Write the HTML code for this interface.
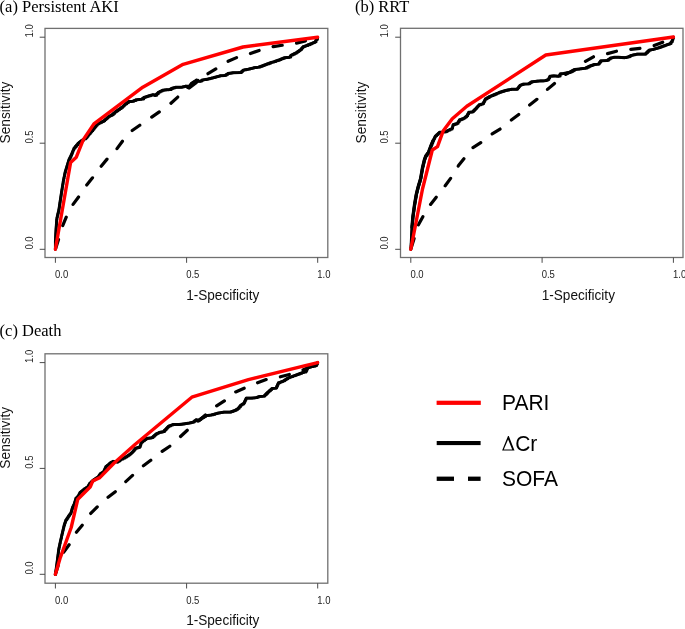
<!DOCTYPE html><html><head><meta charset="utf-8"><style>html,body{margin:0;padding:0;background:#fff;}svg{display:block;will-change:transform;}</style></head><body>
<svg width="685" height="629" viewBox="0 0 685 629">
<rect width="685" height="629" fill="#fff"/>
<rect x="45.0" y="28.4" width="282.8" height="229.1" fill="none" stroke="#707070" stroke-width="1.3"/>
<line x1="55.4" y1="257.5" x2="55.4" y2="262.8" stroke="#4a4a4a" stroke-width="1"/>
<line x1="45.0" y1="249.3" x2="39.7" y2="249.3" stroke="#4a4a4a" stroke-width="1"/>
<text transform="translate(55.00,277.90) scale(1,1.08)" font-family="'Liberation Sans', sans-serif" font-size="9.5" fill="#222">0.0</text>
<text transform="translate(32.50,249.60) rotate(-90) scale(1,1.08)" font-family="'Liberation Sans', sans-serif" font-size="9.5" fill="#222">0.0</text>
<line x1="186.6" y1="257.5" x2="186.6" y2="262.8" stroke="#4a4a4a" stroke-width="1"/>
<line x1="45.0" y1="143.2" x2="39.7" y2="143.2" stroke="#4a4a4a" stroke-width="1"/>
<text transform="translate(186.15,277.90) scale(1,1.08)" font-family="'Liberation Sans', sans-serif" font-size="9.5" fill="#222">0.5</text>
<text transform="translate(32.50,143.55) rotate(-90) scale(1,1.08)" font-family="'Liberation Sans', sans-serif" font-size="9.5" fill="#222">0.5</text>
<line x1="317.7" y1="257.5" x2="317.7" y2="262.8" stroke="#4a4a4a" stroke-width="1"/>
<line x1="45.0" y1="37.2" x2="39.7" y2="37.2" stroke="#4a4a4a" stroke-width="1"/>
<text transform="translate(317.30,277.90) scale(1,1.08)" font-family="'Liberation Sans', sans-serif" font-size="9.5" fill="#222">1.0</text>
<text transform="translate(32.50,37.50) rotate(-90) scale(1,1.08)" font-family="'Liberation Sans', sans-serif" font-size="9.5" fill="#222">1.0</text>
<text transform="translate(186.15,300.40) scale(1,1.04)" font-family="'Liberation Sans', sans-serif" font-size="13.6" fill="#111">1-Specificity</text>
<text transform="translate(10.10,143.45) rotate(-90) scale(1,1.04)" font-family="'Liberation Sans', sans-serif" font-size="13.75" fill="#111">Sensitivity</text>
<text transform="translate(-0.40,11.70) scale(1,1.04)" font-family="'Liberation Serif', serif" font-size="16.5" fill="#000">(a) Persistent AKI</text>
<polyline points="55.4,249.3 59.3,237.0 61.9,227.6 66.7,216.0 72.5,205.1 80.0,195.0 86.7,185.0 93.4,176.7 100.1,167.5 108.4,157.5 116.0,150.0 123.4,139.9 131.4,131.1 140.9,124.5 150.4,118.0 159.9,111.4 169.3,104.8 178.8,96.1 207.0,74.3 218.0,67.7 226.7,61.9 238.4,56.8 249.3,53.9 261.8,49.5 273.4,46.6 285.5,44.8 295.7,43.3 307.4,40.4 317.6,37.5" fill="none" stroke="#000" stroke-width="3.2" stroke-linejoin="round" stroke-linecap="round" stroke-dasharray="9.2 14.50" stroke-dashoffset="-1.1"/>
<polyline points="55.4,249.3 55.4,249.3 55.4,247.7 55.4,247.7 55.4,246.1 55.4,246.1 55.4,244.5 55.4,244.5 55.4,242.9 55.4,242.9 55.4,241.3 55.5,241.3 55.5,239.7 55.6,239.7 55.6,238.0 55.6,238.0 55.6,236.4 55.7,236.4 55.7,234.8 55.8,234.8 55.8,233.1 55.9,233.1 55.9,231.5 56.0,231.5 56.0,229.8 56.1,229.8 56.1,228.1 56.2,228.1 56.2,226.4 56.4,226.4 56.4,224.7 56.5,224.7 56.5,223.0 56.6,223.0 56.6,221.3 56.7,221.3 56.7,219.6 57.0,219.6 57.0,217.6 57.4,217.6 57.4,215.7 57.9,215.7 57.9,213.7 58.4,213.7 58.4,211.7 58.9,211.7 58.9,209.7 59.1,209.7 59.1,208.0 59.4,208.0 59.4,206.2 59.6,206.2 59.6,204.5 59.9,204.5 59.9,202.8 60.2,202.8 60.2,200.8 60.5,200.8 60.5,198.9 60.8,198.9 60.8,196.9 61.1,196.9 61.1,194.9 61.4,194.9 61.4,193.2 61.6,193.2 61.6,191.4 61.9,191.4 61.9,189.7 62.2,189.7 62.2,188.1 62.4,188.1 62.4,186.5 62.7,186.5 62.7,184.8 63.0,184.8 63.0,183.2 63.2,183.2 63.2,181.6 63.5,181.6 63.5,180.0 63.9,180.0 63.9,178.1 64.3,178.1 64.3,176.1 64.7,176.1 64.7,174.1 65.1,174.1 65.1,172.2 65.6,172.2 65.6,170.6 66.1,170.6 66.1,169.0 66.5,169.0 66.5,167.5 67.0,167.5 67.0,165.9 67.5,165.9 67.5,164.3 68.0,164.3 68.0,162.7 68.5,162.7 68.5,161.1 69.0,161.1 69.0,159.5 70.0,159.5 70.0,157.5 71.0,157.5 71.0,155.5 71.8,155.5 71.8,153.7 72.5,153.7 72.5,151.8 73.2,151.8 73.2,150.0 74.0,150.0 74.0,148.2 75.3,148.2 75.3,146.6 76.7,146.6 76.7,145.0 78.0,145.0 78.0,143.4 79.3,143.4 79.3,142.3 80.7,142.3 80.7,141.3 82.0,141.3 82.0,140.2 84.0,140.2 84.0,139.0 86.1,139.0 86.1,137.8 87.2,137.8 87.2,136.4 88.2,136.4 88.2,135.1 89.3,135.1 89.3,133.7 90.5,133.7 90.5,132.3 91.7,132.3 91.7,130.9 92.9,130.9 92.9,129.5 94.1,129.5 94.1,128.1 95.2,128.1 95.2,126.8 96.2,126.8 96.2,125.4 97.3,125.4 97.3,124.1 98.9,124.1 98.9,123.3 100.5,123.3 100.5,122.5 102.1,122.5 102.1,121.7 103.7,121.7 103.7,120.9 104.9,120.9 104.9,119.8 106.2,119.8 106.2,118.7 107.4,118.7 107.4,117.6 108.6,117.6 108.6,116.5 110.2,116.5 110.2,115.7 111.8,115.7 111.8,114.9 113.4,114.9 113.4,113.5 115.0,113.5 115.0,112.0 116.6,112.0 116.6,110.9 118.2,110.9 118.2,109.8 119.8,109.8 119.8,108.7 121.4,108.7 121.4,107.5 123.0,107.5 123.0,106.3 124.2,106.3 124.2,105.1 125.4,105.1 125.4,103.9 127.0,103.9 127.0,102.7 128.7,102.7 128.7,101.5 130.3,101.5 130.3,101.5 131.9,101.5 131.9,101.5 133.9,101.5 133.9,100.7 135.9,100.7 135.9,99.9 137.8,99.9 137.8,99.6 139.6,99.6 139.6,99.4 141.5,99.4 141.5,99.1 143.9,99.1 143.9,97.5 145.5,97.5 145.5,97.0 147.1,97.0 147.1,96.4 148.7,96.4 148.7,95.9 150.8,95.9 150.8,95.3 152.8,95.3 152.8,94.7 155.2,94.7 155.2,95.5 156.8,95.5 156.8,93.9 158.4,93.9 158.4,92.3 160.4,92.3 160.4,91.3 162.4,91.3 162.4,90.3 164.4,90.3 164.4,90.0 166.4,90.0 166.4,89.8 169.0,89.8 169.0,89.7 171.4,89.7 171.4,88.5 173.4,88.5 173.4,87.9 175.4,87.9 175.4,87.3 177.3,87.3 177.3,87.3 179.2,87.3 179.2,87.3 181.1,87.3 181.1,87.3 182.7,87.3 182.7,86.9 184.3,86.9 184.3,86.5 185.9,86.5 185.9,86.1 187.9,86.1 187.9,87.7 189.1,87.7 189.1,86.2 190.3,86.2 190.3,84.8 191.5,84.8 191.5,83.3 193.1,83.3 193.1,82.2 194.7,82.2 194.7,81.2 196.3,81.2 196.3,80.1 197.9,80.1 197.9,81.3 200.3,81.3 200.3,81.3 201.9,81.3 201.9,80.1 203.5,80.1 203.5,79.8 205.2,79.8 205.2,79.6 206.8,79.6 206.8,79.3 208.4,79.3 208.4,78.9 210.0,78.9 210.0,78.5 211.6,78.5 211.6,78.1 213.2,78.1 213.2,77.7 214.9,77.7 214.9,77.2 216.6,77.2 216.6,76.8 218.3,76.8 218.3,76.3 220.0,76.3 220.0,75.8 221.6,75.8 221.6,75.7 223.2,75.7 223.2,75.6 224.8,75.6 224.8,75.5 226.4,75.5 226.4,74.5 228.0,74.5 228.0,73.5 229.6,73.5 229.6,73.2 231.3,73.2 231.3,73.0 232.9,73.0 232.9,72.7 234.8,72.7 234.8,72.7 236.7,72.7 236.7,72.7 238.6,72.7 238.6,72.6 240.5,72.6 240.5,72.6 241.8,72.6 241.8,71.4 243.0,71.4 243.0,70.2 244.7,70.2 244.7,69.9 246.4,69.9 246.4,69.5 248.1,69.5 248.1,69.2 250.0,69.2 250.0,68.7 251.8,68.7 251.8,68.3 253.7,68.3 253.7,67.8 255.3,67.8 255.3,67.6 257.0,67.6 257.0,67.3 258.6,67.3 258.6,67.1 260.6,67.1 260.6,66.4 262.6,66.4 262.6,65.7 264.2,65.7 264.2,65.1 265.8,65.1 265.8,64.5 267.4,64.5 267.4,63.9 269.4,63.9 269.4,63.1 271.4,63.1 271.4,62.3 274.0,62.3 274.0,61.7 275.9,61.7 275.9,61.0 277.7,61.0 277.7,60.4 279.6,60.4 279.6,59.7 281.2,59.7 281.2,59.0 282.9,59.0 282.9,58.4 284.5,58.4 284.5,57.7 286.1,57.7 286.1,57.6 287.7,57.6 287.7,57.4 289.3,57.4 289.3,57.3 290.9,57.3 290.9,55.3 292.8,55.3 292.8,54.4 294.6,54.4 294.6,53.4 296.5,53.4 296.5,52.5 297.8,52.5 297.8,51.6 299.2,51.6 299.2,50.6 300.5,50.6 300.5,49.7 301.7,49.7 301.7,48.3 302.9,48.3 302.9,46.9 304.5,46.9 304.5,46.3 306.1,46.3 306.1,45.7 308.0,45.7 308.0,44.9 309.9,44.9 309.9,44.1 311.8,44.1 311.8,43.3 313.4,43.3 313.4,42.6 315.0,42.6 315.0,42.0 316.2,42.0 316.2,39.6 317.6,39.6 317.6,37.5" fill="none" stroke="#000" stroke-width="2.6" stroke-linejoin="round" stroke-linecap="round"/>
<polyline points="55.4,249.3 55.4,241.3 55.9,231.5 56.7,219.6 57.4,215.7 58.9,209.7 59.9,202.8 61.1,194.9 61.9,189.7 63.5,180.0 65.1,172.2 67.5,164.3 69.0,159.5 71.0,155.5 74.0,148.2 78.0,143.4 82.0,140.2 86.1,137.8 89.3,133.7 94.1,128.1 97.3,124.1 103.7,120.9 108.6,116.5 111.8,114.9 115.0,112.0 119.8,108.7 123.0,106.3 125.4,103.9 128.7,101.5 131.9,101.5 135.9,99.9 141.5,99.1 143.9,97.5 148.7,95.9 152.8,94.7 155.2,95.5 158.4,92.3 162.4,90.3 166.4,89.8 169.0,89.7 171.4,88.5 175.4,87.3 181.1,87.3 185.9,86.1 187.9,87.7 191.5,83.3 196.3,80.1 197.9,81.3 200.3,81.3 201.9,80.1 206.8,79.3 213.2,77.7 220.0,75.8 224.8,75.5 228.0,73.5 232.9,72.7 240.5,72.6 243.0,70.2 248.1,69.2 253.7,67.8 258.6,67.1 262.6,65.7 267.4,63.9 271.4,62.3 274.0,61.7 279.6,59.7 284.5,57.7 289.3,57.3 290.9,55.3 296.5,52.5 300.5,49.7 302.9,46.9 306.1,45.7 311.8,43.3 315.0,42.0 316.2,39.6 317.6,37.5" fill="none" stroke="#000" stroke-width="2.9" stroke-linejoin="round" stroke-linecap="round"/>
<polyline points="55.4,249.3 70.6,162.5 76.3,157.2 83.3,139.6 93.9,123.9 142.8,87.2 183.1,64.3 243.0,47.0 317.6,37.2" fill="none" stroke="#f00" stroke-width="3.4" stroke-linejoin="round" stroke-linecap="round"/>
<rect x="400.5" y="28.3" width="282.5" height="229.2" fill="none" stroke="#707070" stroke-width="1.3"/>
<line x1="410.8" y1="257.5" x2="410.8" y2="262.8" stroke="#4a4a4a" stroke-width="1"/>
<line x1="400.5" y1="249.3" x2="395.2" y2="249.3" stroke="#4a4a4a" stroke-width="1"/>
<text transform="translate(410.40,277.90) scale(1,1.08)" font-family="'Liberation Sans', sans-serif" font-size="9.5" fill="#222">0.0</text>
<text transform="translate(388.00,249.60) rotate(-90) scale(1,1.08)" font-family="'Liberation Sans', sans-serif" font-size="9.5" fill="#222">0.0</text>
<line x1="542.1" y1="257.5" x2="542.1" y2="262.8" stroke="#4a4a4a" stroke-width="1"/>
<line x1="400.5" y1="143.2" x2="395.2" y2="143.2" stroke="#4a4a4a" stroke-width="1"/>
<text transform="translate(541.70,277.90) scale(1,1.08)" font-family="'Liberation Sans', sans-serif" font-size="9.5" fill="#222">0.5</text>
<text transform="translate(388.00,143.55) rotate(-90) scale(1,1.08)" font-family="'Liberation Sans', sans-serif" font-size="9.5" fill="#222">0.5</text>
<line x1="673.4" y1="257.5" x2="673.4" y2="262.8" stroke="#4a4a4a" stroke-width="1"/>
<line x1="400.5" y1="37.2" x2="395.2" y2="37.2" stroke="#4a4a4a" stroke-width="1"/>
<text transform="translate(673.00,277.90) scale(1,1.08)" font-family="'Liberation Sans', sans-serif" font-size="9.5" fill="#222">1.0</text>
<text transform="translate(388.00,37.50) rotate(-90) scale(1,1.08)" font-family="'Liberation Sans', sans-serif" font-size="9.5" fill="#222">1.0</text>
<text transform="translate(541.70,300.40) scale(1,1.04)" font-family="'Liberation Sans', sans-serif" font-size="13.6" fill="#111">1-Specificity</text>
<text transform="translate(365.60,143.45) rotate(-90) scale(1,1.04)" font-family="'Liberation Sans', sans-serif" font-size="13.75" fill="#111">Sensitivity</text>
<text transform="translate(354.90,11.70) scale(1,1.04)" font-family="'Liberation Serif', serif" font-size="16.5" fill="#000">(b) RRT</text>
<polyline points="410.8,249.3 414.6,237.0 418.3,225.0 423.8,215.0 430.2,204.9 436.6,196.7 443.9,187.6 451.2,177.5 458.5,165.6 465.3,157.0 470.9,149.0 482.0,141.9 490.7,134.7 501.1,128.4 509.8,121.2 519.5,113.9 527.5,106.7 538.6,98.0 545.8,90.8 556.1,82.1 564.8,74.9 574.4,69.7 583.9,62.2 594.3,56.3 605.4,54.2 617.7,50.9 628.8,49.5 642.0,48.1 653.1,46.0 663.5,41.9 673.4,37.0" fill="none" stroke="#000" stroke-width="3.2" stroke-linejoin="round" stroke-linecap="round" stroke-dasharray="9.2 14.50" stroke-dashoffset="-2.0"/>
<polyline points="410.8,249.3 411.0,249.3 411.0,247.1 411.1,247.1 411.1,244.8 411.2,244.8 411.2,243.1 411.3,243.1 411.3,241.3 411.4,241.3 411.4,239.6 411.5,239.6 411.5,237.8 411.6,237.8 411.6,236.1 411.6,236.1 411.6,234.3 411.7,234.3 411.7,232.6 411.8,232.6 411.8,230.8 411.9,230.8 411.9,229.1 412.0,229.1 412.0,227.3 412.1,227.3 412.1,225.6 412.3,225.6 412.3,223.8 412.4,223.8 412.4,222.1 412.6,222.1 412.6,220.4 412.8,220.4 412.8,218.6 412.9,218.6 412.9,216.9 413.1,216.9 413.1,215.1 413.4,215.1 413.4,213.4 413.6,213.4 413.6,211.6 413.9,211.6 413.9,209.9 414.1,209.9 414.1,208.1 414.4,208.1 414.4,206.4 414.6,206.4 414.6,204.6 414.9,204.6 414.9,202.8 415.2,202.8 415.2,201.1 415.5,201.1 415.5,199.3 415.8,199.3 415.8,197.6 416.1,197.6 416.1,195.8 416.4,195.8 416.4,194.1 416.8,194.1 416.8,192.4 417.2,192.4 417.2,190.6 417.7,190.6 417.7,188.9 418.1,188.9 418.1,187.2 418.6,187.2 418.6,185.4 419.1,185.4 419.1,183.7 419.7,183.7 419.7,181.9 420.2,181.9 420.2,180.2 420.7,180.2 420.7,178.4 421.0,178.4 421.0,176.7 421.3,176.7 421.3,174.9 421.6,174.9 421.6,173.2 421.9,173.2 421.9,171.5 422.2,171.5 422.2,169.7 422.5,169.7 422.5,168.0 422.9,168.0 422.9,166.2 423.3,166.2 423.3,164.5 423.8,164.5 423.8,162.7 424.2,162.7 424.2,161.0 424.6,161.0 424.6,159.2 425.3,159.2 425.3,157.4 426.0,157.4 426.0,155.7 427.3,155.7 427.3,153.9 428.6,153.9 428.6,152.2 429.2,152.2 429.2,150.4 429.9,150.4 429.9,148.7 430.6,148.7 430.6,146.9 431.2,146.9 431.2,145.2 432.1,145.2 432.1,143.0 433.0,143.0 433.0,140.8 433.8,140.8 433.8,139.2 434.6,139.2 434.6,137.6 435.4,137.6 435.4,136.0 436.8,136.0 436.8,134.8 438.1,134.8 438.1,133.5 439.5,133.5 439.5,132.3 441.4,132.3 441.4,132.2 443.2,132.2 443.2,132.0 445.1,132.0 445.1,131.9 446.7,131.9 446.7,131.1 448.3,131.1 448.3,130.3 450.3,130.3 450.3,129.3 452.3,129.3 452.3,128.3 452.7,128.3 452.7,126.5 453.1,126.5 453.1,124.7 455.1,124.7 455.1,124.1 457.1,124.1 457.1,123.5 458.3,123.5 458.3,121.7 459.5,121.7 459.5,119.9 461.6,119.9 461.6,119.1 463.6,119.1 463.6,118.3 465.2,118.3 465.2,117.1 466.8,117.1 466.8,115.9 467.8,115.9 467.8,114.1 468.8,114.1 468.8,112.3 470.6,112.3 470.6,112.1 472.4,112.1 472.4,111.9 473.5,111.9 473.5,110.8 474.7,110.8 474.7,109.6 475.8,109.6 475.8,108.5 476.9,108.5 476.9,107.3 477.9,107.3 477.9,106.1 479.0,106.1 479.0,104.9 481.0,104.9 481.0,104.3 483.0,104.3 483.0,103.7 483.8,103.7 483.8,102.1 484.6,102.1 484.6,100.5 485.4,100.5 485.4,98.9 487.4,98.9 487.4,97.7 489.5,97.7 489.5,96.5 491.5,96.5 491.5,95.7 493.5,95.7 493.5,94.9 495.4,94.9 495.4,94.1 497.2,94.1 497.2,93.3 499.1,93.3 499.1,92.5 500.7,92.5 500.7,92.0 502.3,92.0 502.3,91.5 503.9,91.5 503.9,91.0 505.5,91.0 505.5,90.5 507.4,90.5 507.4,90.1 509.2,90.1 509.2,89.7 511.1,89.7 511.1,89.3 513.0,89.3 513.0,89.3 514.9,89.3 514.9,89.3 516.8,89.3 516.8,89.3 517.9,89.3 517.9,88.0 518.9,88.0 518.9,86.6 520.0,86.6 520.0,85.3 521.6,85.3 521.6,84.7 523.2,84.7 523.2,84.1 524.9,84.1 524.9,84.0 526.5,84.0 526.5,84.0 528.2,84.0 528.2,83.9 529.8,83.9 529.8,82.9 531.4,82.9 531.4,81.9 533.3,81.9 533.3,81.6 535.1,81.6 535.1,81.4 537.0,81.4 537.0,81.1 538.6,81.1 538.6,81.0 540.2,81.0 540.2,80.9 541.9,80.9 541.9,80.9 543.5,80.9 543.5,80.8 545.1,80.8 545.1,80.7 546.7,80.7 546.7,80.1 548.3,80.1 548.3,79.5 549.1,79.5 549.1,77.9 549.9,77.9 549.9,76.3 551.5,76.3 551.5,76.1 553.1,76.1 553.1,75.9 555.0,75.9 555.0,76.0 556.8,76.0 556.8,76.2 558.7,76.2 558.7,76.3 560.3,76.3 560.3,73.9 562.0,73.9 562.0,73.7 563.6,73.7 563.6,73.5 565.2,73.5 565.2,73.2 566.8,73.2 566.8,72.9 568.4,72.9 568.4,72.6 570.0,72.6 570.0,72.3 571.6,72.3 571.6,71.4 573.2,71.4 573.2,70.4 574.8,70.4 574.8,69.5 576.5,69.5 576.5,69.3 578.1,69.3 578.1,69.1 579.8,69.1 579.8,68.9 581.7,68.9 581.7,68.6 583.5,68.6 583.5,68.4 585.4,68.4 585.4,68.1 587.5,68.1 587.5,67.1 589.5,67.1 589.5,66.1 591.1,66.1 591.1,65.6 592.7,65.6 592.7,65.0 594.3,65.0 594.3,64.5 596.3,64.5 596.3,64.3 598.3,64.3 598.3,64.1 599.5,64.1 599.5,62.5 600.7,62.5 600.7,60.9 602.3,60.9 602.3,60.8 603.9,60.8 603.9,60.7 605.5,60.7 605.5,60.6 607.1,60.6 607.1,60.5 608.7,60.5 608.7,59.3 610.3,59.3 610.3,58.1 612.0,58.1 612.0,57.7 613.6,57.7 613.6,57.3 616.0,57.3 616.0,57.3 618.4,57.3 618.4,57.3 620.0,57.3 620.0,57.4 621.6,57.4 621.6,57.5 623.2,57.5 623.2,57.6 624.8,57.6 624.8,57.7 626.5,57.7 626.5,57.3 628.2,57.3 628.2,56.9 629.8,56.9 629.8,56.1 631.4,56.1 631.4,55.3 633.3,55.3 633.3,54.9 635.1,54.9 635.1,54.5 637.0,54.5 637.0,54.1 638.6,54.1 638.6,54.1 640.2,54.1 640.2,54.1 641.9,54.1 641.9,54.1 643.5,54.1 643.5,54.1 645.1,54.1 645.1,54.1 646.4,54.1 646.4,52.8 647.8,52.8 647.8,51.4 649.1,51.4 649.1,50.1 651.1,50.1 651.1,49.7 653.1,49.7 653.1,49.3 655.0,49.3 655.0,48.8 656.8,48.8 656.8,48.2 658.7,48.2 658.7,47.7 660.3,47.7 660.3,47.1 662.0,47.1 662.0,46.5 663.6,46.5 663.6,45.9 665.2,45.9 665.2,45.3 666.8,45.3 666.8,44.8 668.4,44.8 668.4,44.2 670.0,44.2 670.0,43.7 671.2,43.7 671.2,42.0 672.4,42.0 672.4,40.4 672.9,40.4 672.9,38.8 673.4,38.8 673.4,37.2" fill="none" stroke="#000" stroke-width="2.6" stroke-linejoin="round" stroke-linecap="round"/>
<polyline points="410.8,249.3 411.1,244.8 412.0,227.3 412.9,216.9 414.6,204.6 416.4,194.1 418.1,187.2 420.7,178.4 422.5,168.0 424.6,159.2 426.0,155.7 428.6,152.2 431.2,145.2 433.0,140.8 435.4,136.0 439.5,132.3 445.1,131.9 448.3,130.3 452.3,128.3 453.1,124.7 457.1,123.5 459.5,119.9 463.6,118.3 466.8,115.9 468.8,112.3 472.4,111.9 475.8,108.5 479.0,104.9 483.0,103.7 485.4,98.9 489.5,96.5 493.5,94.9 499.1,92.5 505.5,90.5 511.1,89.3 516.8,89.3 520.0,85.3 523.2,84.1 528.2,83.9 531.4,81.9 537.0,81.1 545.1,80.7 548.3,79.5 549.9,76.3 553.1,75.9 558.7,76.3 560.3,73.9 563.6,73.5 570.0,72.3 574.8,69.5 579.8,68.9 585.4,68.1 589.5,66.1 594.3,64.5 598.3,64.1 600.7,60.9 607.1,60.5 610.3,58.1 613.6,57.3 618.4,57.3 624.8,57.7 628.2,56.9 631.4,55.3 637.0,54.1 645.1,54.1 649.1,50.1 653.1,49.3 658.7,47.7 665.2,45.3 670.0,43.7 672.4,40.4 673.4,37.2" fill="none" stroke="#000" stroke-width="2.9" stroke-linejoin="round" stroke-linecap="round"/>
<polyline points="412.0,227.3 412.9,216.9 414.6,204.6 416.4,194.1 418.1,187.2 420.7,178.4 422.5,168.0 424.6,159.2 426.0,155.7 428.6,152.2 431.2,145.2 433.0,140.8" fill="none" stroke="#000" stroke-width="3.4" stroke-linejoin="round" stroke-linecap="round"/>
<polyline points="410.8,249.3 422.5,189.0 432.3,150.0 437.5,146.6 443.1,131.1 452.3,118.7 466.8,106.2 545.8,55.0 673.4,37.0" fill="none" stroke="#f00" stroke-width="3.4" stroke-linejoin="round" stroke-linecap="round"/>
<rect x="45.0" y="353.8" width="282.8" height="229.4" fill="none" stroke="#707070" stroke-width="1.3"/>
<line x1="55.4" y1="583.2" x2="55.4" y2="588.5" stroke="#4a4a4a" stroke-width="1"/>
<line x1="45.0" y1="574.3" x2="39.7" y2="574.3" stroke="#4a4a4a" stroke-width="1"/>
<text transform="translate(55.00,603.60) scale(1,1.08)" font-family="'Liberation Sans', sans-serif" font-size="9.5" fill="#222">0.0</text>
<text transform="translate(32.50,574.60) rotate(-90) scale(1,1.08)" font-family="'Liberation Sans', sans-serif" font-size="9.5" fill="#222">0.0</text>
<line x1="186.6" y1="583.2" x2="186.6" y2="588.5" stroke="#4a4a4a" stroke-width="1"/>
<line x1="45.0" y1="468.4" x2="39.7" y2="468.4" stroke="#4a4a4a" stroke-width="1"/>
<text transform="translate(186.15,603.60) scale(1,1.08)" font-family="'Liberation Sans', sans-serif" font-size="9.5" fill="#222">0.5</text>
<text transform="translate(32.50,468.75) rotate(-90) scale(1,1.08)" font-family="'Liberation Sans', sans-serif" font-size="9.5" fill="#222">0.5</text>
<line x1="317.7" y1="583.2" x2="317.7" y2="588.5" stroke="#4a4a4a" stroke-width="1"/>
<line x1="45.0" y1="362.6" x2="39.7" y2="362.6" stroke="#4a4a4a" stroke-width="1"/>
<text transform="translate(317.30,603.60) scale(1,1.08)" font-family="'Liberation Sans', sans-serif" font-size="9.5" fill="#222">1.0</text>
<text transform="translate(32.50,362.90) rotate(-90) scale(1,1.08)" font-family="'Liberation Sans', sans-serif" font-size="9.5" fill="#222">1.0</text>
<text transform="translate(186.15,625.10) scale(1,1.04)" font-family="'Liberation Sans', sans-serif" font-size="13.6" fill="#111">1-Specificity</text>
<text transform="translate(10.10,468.65) rotate(-90) scale(1,1.04)" font-family="'Liberation Sans', sans-serif" font-size="13.75" fill="#111">Sensitivity</text>
<text transform="translate(-0.40,335.50) scale(1,1.04)" font-family="'Liberation Serif', serif" font-size="16.5" fill="#000">(c) Death</text>
<polyline points="55.4,574.3 61.2,555.4 69.8,543.9 75.5,533.4 84.1,522.9 89.8,514.4 98.4,505.8 106.4,498.6 116.7,490.6 124.6,482.7 134.2,473.9 142.1,466.8 151.7,459.6 160.4,452.5 170.0,446.1 178.7,438.2 188.2,429.4 215.0,406.9 226.1,399.7 234.1,392.6 245.2,387.8 254.7,383.8 267.4,379.1 278.0,377.4 289.7,374.4 303.0,370.0 317.6,362.6" fill="none" stroke="#000" stroke-width="3.2" stroke-linejoin="round" stroke-linecap="round" stroke-dasharray="9.2 14.50" stroke-dashoffset="-0.1"/>
<polyline points="55.4,574.3 55.6,574.3 55.6,572.7 55.9,572.7 55.9,571.0 56.1,571.0 56.1,569.4 56.3,569.4 56.3,567.7 56.5,567.7 56.5,566.1 56.8,566.1 56.8,564.4 57.0,564.4 57.0,562.8 57.2,562.8 57.2,561.1 57.4,561.1 57.4,559.4 57.6,559.4 57.6,557.8 57.9,557.8 57.9,556.1 58.1,556.1 58.1,554.4 58.3,554.4 58.3,552.8 58.5,552.8 58.5,551.1 58.7,551.1 58.7,549.4 59.1,549.4 59.1,547.5 59.5,547.5 59.5,545.5 59.9,545.5 59.9,543.6 60.3,543.6 60.3,541.7 60.7,541.7 60.7,540.0 61.1,540.0 61.1,538.4 61.5,538.4 61.5,536.7 61.8,536.7 61.8,535.0 62.2,535.0 62.2,533.4 62.6,533.4 62.6,531.7 63.0,531.7 63.0,530.0 63.4,530.0 63.4,528.4 63.8,528.4 63.8,526.7 64.2,526.7 64.2,525.0 64.8,525.0 64.8,523.3 65.3,523.3 65.3,521.7 65.9,521.7 65.9,520.0 67.0,520.0 67.0,518.4 68.1,518.4 68.1,516.7 69.0,516.7 69.0,515.4 70.0,515.4 70.0,514.1 70.9,514.1 70.9,512.8 71.5,512.8 71.5,510.9 72.0,510.9 72.0,509.1 72.6,509.1 72.6,507.2 73.4,507.2 73.4,505.5 74.2,505.5 74.2,503.9 74.8,503.9 74.8,502.0 75.3,502.0 75.3,500.2 75.9,500.2 75.9,498.3 78.1,498.3 78.1,496.1 79.1,496.1 79.1,494.2 80.1,494.2 80.1,492.3 81.5,492.3 81.5,491.2 83.0,491.2 83.0,490.0 84.4,490.0 84.4,488.9 86.0,488.9 86.0,487.9 87.5,487.9 87.5,487.0 88.7,487.0 88.7,485.2 89.8,485.2 89.8,483.4 91.4,483.4 91.4,481.8 93.0,481.8 93.0,480.2 94.6,480.2 94.6,479.1 96.3,479.1 96.3,478.1 97.9,478.1 97.9,477.0 99.1,477.0 99.1,475.4 100.3,475.4 100.3,473.7 101.9,473.7 101.9,472.7 103.5,472.7 103.5,471.7 104.3,471.7 104.3,470.0 105.1,470.0 105.1,468.2 105.9,468.2 105.9,466.5 107.5,466.5 107.5,465.2 109.1,465.2 109.1,463.8 110.7,463.8 110.7,462.5 113.1,462.5 113.1,461.3 115.1,461.3 115.1,461.7 117.1,461.7 117.1,462.1 118.4,462.1 118.4,461.2 119.8,461.2 119.8,460.2 121.1,460.2 121.1,459.3 123.2,459.3 123.2,458.3 125.2,458.3 125.2,457.3 126.8,457.3 126.8,456.3 128.4,456.3 128.4,455.3 129.7,455.3 129.7,454.2 131.1,454.2 131.1,453.1 132.4,453.1 132.4,452.0 133.4,452.0 133.4,450.7 134.5,450.7 134.5,449.5 135.5,449.5 135.5,448.2 137.7,448.2 137.7,447.6 139.8,447.6 139.8,447.0 140.3,447.0 140.3,445.4 140.9,445.4 140.9,443.7 141.4,443.7 141.4,442.1 143.0,442.1 143.0,440.9 144.6,440.9 144.6,439.7 146.2,439.7 146.2,438.5 148.1,438.5 148.1,438.2 150.0,438.2 150.0,438.0 151.9,438.0 151.9,437.7 153.2,437.7 153.2,436.5 154.6,436.5 154.6,435.3 155.9,435.3 155.9,434.1 157.5,434.1 157.5,433.3 159.1,433.3 159.1,432.5 161.1,432.5 161.1,432.1 163.1,432.1 163.1,431.7 164.7,431.7 164.7,430.1 166.3,430.1 166.3,428.5 167.5,428.5 167.5,427.3 168.7,427.3 168.7,426.1 170.8,426.1 170.8,425.3 172.8,425.3 172.8,424.5 174.9,424.5 174.9,424.5 177.1,424.5 177.1,424.5 179.2,424.5 179.2,424.5 181.1,424.5 181.1,424.2 182.9,424.2 182.9,424.0 184.8,424.0 184.8,423.7 186.5,423.7 186.5,423.4 188.1,423.4 188.1,423.2 189.8,423.2 189.8,422.9 191.4,422.9 191.4,422.5 193.0,422.5 193.0,422.1 194.6,422.1 194.6,420.9 196.2,420.9 196.2,419.7 197.9,419.7 197.9,420.9 199.5,420.9 199.5,419.7 201.1,419.7 201.1,418.5 202.7,418.5 202.7,417.6 204.3,417.6 204.3,416.6 205.9,416.6 205.9,415.7 207.8,415.7 207.8,415.4 209.6,415.4 209.6,415.2 211.5,415.2 211.5,414.9 213.4,414.9 213.4,414.4 215.2,414.4 215.2,413.8 217.1,413.8 217.1,413.3 218.7,413.3 218.7,413.0 220.3,413.0 220.3,412.7 222.0,412.7 222.0,412.4 223.6,412.4 223.6,412.1 225.2,412.1 225.2,412.1 226.8,412.1 226.8,412.1 228.4,412.1 228.4,412.1 230.0,412.1 230.0,412.1 231.6,412.1 231.6,411.6 233.2,411.6 233.2,411.0 234.8,411.0 234.8,410.5 236.4,410.5 236.4,409.5 238.0,409.5 238.0,408.5 239.3,408.5 239.3,406.9 240.6,406.9 240.6,405.3 242.2,405.3 242.2,404.3 243.8,404.3 243.8,403.3 244.6,403.3 244.6,401.6 245.4,401.6 245.4,399.8 246.2,399.8 246.2,398.1 247.8,398.1 247.8,398.1 249.5,398.1 249.5,398.1 251.1,398.1 251.1,398.1 252.7,398.1 252.7,398.0 254.3,398.0 254.3,397.8 255.9,397.8 255.9,397.7 257.5,397.7 257.5,397.1 259.1,397.1 259.1,396.5 260.7,396.5 260.7,396.4 262.3,396.4 262.3,396.2 263.9,396.2 263.9,396.1 265.2,396.1 265.2,394.8 266.6,394.8 266.6,393.4 267.9,393.4 267.9,392.1 269.2,392.1 269.2,390.9 270.6,390.9 270.6,389.7 271.9,389.7 271.9,388.5 273.9,388.5 273.9,388.3 276.0,388.3 276.0,388.1 276.8,388.1 276.8,386.4 277.6,386.4 277.6,384.6 278.4,384.6 278.4,382.9 280.0,382.9 280.0,382.3 281.6,382.3 281.6,381.6 283.2,381.6 283.2,381.0 284.8,381.0 284.8,380.0 286.3,380.0 286.3,379.0 287.9,379.0 287.9,378.0 289.6,378.0 289.6,377.3 291.4,377.3 291.4,376.7 293.1,376.7 293.1,376.0 294.9,376.0 294.9,375.4 296.6,375.4 296.6,374.7 298.4,374.7 298.4,374.1 300.2,374.1 300.2,373.4 301.9,373.4 301.9,372.8 303.7,372.8 303.7,372.1 306.3,372.1 306.3,370.8 307.0,370.8 307.0,369.3 307.6,369.3 307.6,367.8 309.2,367.8 309.2,367.3 310.9,367.3 310.9,366.8 313.2,366.8 313.2,366.3 315.5,366.3 315.5,365.8 316.8,365.8 316.8,364.2 317.6,364.2 317.6,362.6" fill="none" stroke="#000" stroke-width="2.6" stroke-linejoin="round" stroke-linecap="round"/>
<polyline points="55.4,574.3 57.0,562.8 58.7,549.4 60.3,541.7 62.6,531.7 64.2,525.0 65.9,520.0 68.1,516.7 70.9,512.8 72.6,507.2 74.2,503.9 75.9,498.3 78.1,496.1 80.1,492.3 84.4,488.9 87.5,487.0 89.8,483.4 93.0,480.2 97.9,477.0 100.3,473.7 103.5,471.7 105.9,466.5 110.7,462.5 113.1,461.3 117.1,462.1 121.1,459.3 125.2,457.3 128.4,455.3 132.4,452.0 135.5,448.2 139.8,447.0 141.4,442.1 146.2,438.5 151.9,437.7 155.9,434.1 159.1,432.5 163.1,431.7 166.3,428.5 168.7,426.1 172.8,424.5 179.2,424.5 184.8,423.7 189.8,422.9 193.0,422.1 196.2,419.7 197.9,420.9 201.1,418.5 205.9,415.7 211.5,414.9 217.1,413.3 223.6,412.1 230.0,412.1 234.8,410.5 238.0,408.5 240.6,405.3 243.8,403.3 246.2,398.1 251.1,398.1 255.9,397.7 259.1,396.5 263.9,396.1 267.9,392.1 271.9,388.5 276.0,388.1 278.4,382.9 283.2,381.0 287.9,378.0 293.1,376.0 298.4,374.1 303.7,372.1 306.3,370.8 307.6,367.8 310.9,366.8 315.5,365.8 316.8,364.2 317.6,362.6" fill="none" stroke="#000" stroke-width="2.9" stroke-linejoin="round" stroke-linecap="round"/>
<polyline points="55.4,574.3 60.3,557.6 71.2,527.5 77.8,499.2 90.4,486.7 92.7,481.0 99.8,477.6 113.9,463.3 135.0,444.5 191.8,397.2 248.4,379.6 317.6,362.6" fill="none" stroke="#f00" stroke-width="3.4" stroke-linejoin="round" stroke-linecap="round"/>
<rect x="436.6" y="400.7" width="44.2" height="4.2" fill="#f00"/>
<rect x="436.7" y="441.0" width="43.9" height="4.1" fill="#000"/>
<rect x="436.7" y="476.6" width="17.3" height="4.3" fill="#000"/>
<rect x="468.0" y="476.6" width="12.6" height="4.3" fill="#000"/>
<text transform="translate(502.00,409.90) scale(1,1.04)" font-family="'Liberation Sans', sans-serif" font-size="21" fill="#000">PARI</text>
<path fill-rule="evenodd" fill="#000" d="M502.1,450.6 L508.0,436.0 L508.8,436.0 L514.5,450.6 Z M503.8,449.5 L508.1,439.4 L512.2,449.5 Z"/>
<text transform="translate(515.20,450.60) scale(1,1.04)" font-family="'Liberation Sans', sans-serif" font-size="21" fill="#000">Cr</text>
<text transform="translate(502.00,485.60) scale(1,1.04)" font-family="'Liberation Sans', sans-serif" font-size="21" fill="#000">SOFA</text>
</svg></body></html>
